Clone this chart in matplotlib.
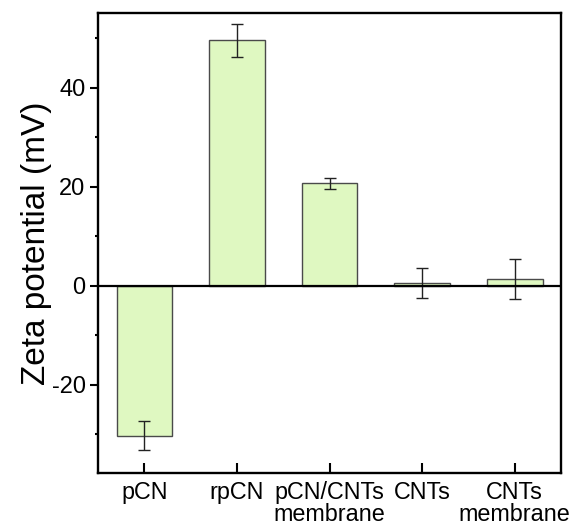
import matplotlib.pyplot as plt
import numpy as np
from matplotlib.ticker import MultipleLocator

plt.rcParams['font.family'] = ['Liberation Sans', 'DejaVu Sans']
plt.rcParams['axes.unicode_minus'] = False

samples = ['pCN', 'rpCN', 'pCN/CNTs\nmembrane', 'CNTs', 'CNTs\nmembrane']
zeta = [-30.3, 49.5, 20.7, 0.6, 1.4]
zeta_err = [2.9, 3.4, 1.1, 3.0, 4.0]

fig = plt.figure(figsize=(5.81, 5.3), dpi=100)
ax = fig.add_axes([0.1687, 0.1075, 0.797, 0.8675])

x = np.arange(len(samples))
ax.bar(x, zeta, width=0.6, color='#dff8c1', edgecolor='#4a4a4a', linewidth=1.0, zorder=2)
ax.errorbar(x, zeta, yerr=zeta_err, fmt='none', ecolor='#222222', elinewidth=1.0,
            capsize=4, capthick=1.0, zorder=3)
ax.axhline(0, color='black', linewidth=1.6, zorder=4)

ax.set_xlim(-0.5, 4.5)
ax.set_ylim(-37.8, 55.0)
ax.set_xticks(x)
ax.set_xticklabels(samples, fontsize=16.8, linespacing=0.93)
ax.yaxis.set_major_locator(MultipleLocator(20))
ax.yaxis.set_minor_locator(MultipleLocator(10))
ax.tick_params(axis='y', which='major', direction='out', length=6, width=1.5, labelsize=17, pad=3)
ax.tick_params(axis='y', which='minor', direction='out', length=2.5, width=1.5)
ax.tick_params(axis='x', which='major', direction='in', length=7, width=1.5, pad=6)
ax.set_ylabel('Zeta potential (mV)', fontsize=24, labelpad=0)

for s in ax.spines.values():
    s.set_linewidth(1.7)

fig.savefig('out.png', dpi=100)
